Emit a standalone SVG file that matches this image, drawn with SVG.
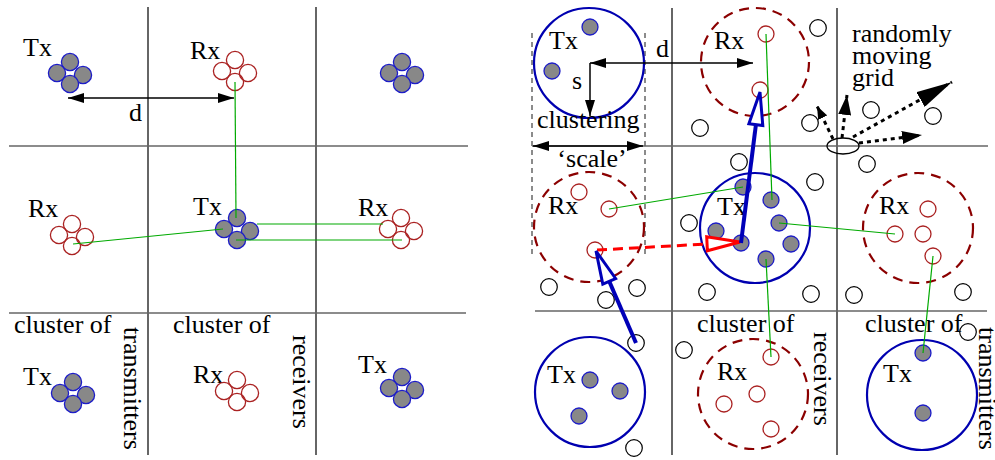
<svg xmlns="http://www.w3.org/2000/svg" xmlns:xlink="http://www.w3.org/1999/xlink" width="995" height="460" viewBox="0 0 995 460">
  <style>
    .gv { stroke:#333; stroke-width:1.5; }
    .gh { stroke:#666; stroke-width:1.5; }
    .tx { fill:#888; stroke:#1c1cc8; stroke-width:1.3; }
    .rx { fill:none; stroke:#aa2222; stroke-width:1.3; }
    .pt { fill:none; stroke:#000; stroke-width:1.2; }
    .zoneT { fill:none; stroke:#0000b0; stroke-width:2.2; }
    .zoneR { fill:none; stroke:#8b0000; stroke-width:2.2; stroke-dasharray:10 7; }
    .link { stroke:#0a0; stroke-width:1.2; fill:none; }
    .dim { stroke:#000; stroke-width:1.5; fill:none; }
    .move { stroke:#000; stroke-width:3; stroke-dasharray:4 4; fill:none; }
    .scale { stroke:#666; stroke-width:1.5; stroke-dasharray:5 4; }
    text { font-family:"Liberation Serif","Times New Roman",serif; font-size:26px; fill:#000; }
  </style>
  <defs>
    <marker id="ah" viewBox="0 0 16 10" refX="16" refY="5" markerWidth="16" markerHeight="10" markerUnits="userSpaceOnUse" orient="auto-start-reverse">
      <path d="M0,0 L16,5 L0,10 z" fill="#000"/>
    </marker>
    <marker id="ahS" viewBox="0 0 13 10" refX="13" refY="5" markerWidth="13" markerHeight="10" markerUnits="userSpaceOnUse" orient="auto">
      <path d="M0,0 L13,5 L0,10 z" fill="#000"/>
    </marker>
    <marker id="ahM" viewBox="0 0 20 13" refX="20" refY="6.5" markerWidth="20" markerHeight="13" markerUnits="userSpaceOnUse" orient="auto">
      <path d="M0,0 L20,6.5 L0,13 z" fill="#000"/>
    </marker>
    <marker id="ahL" viewBox="0 0 36 17" refX="36" refY="8.5" markerWidth="36" markerHeight="17" markerUnits="userSpaceOnUse" orient="auto">
      <path d="M0,0 L36,8.5 L0,17 z" fill="#000"/>
    </marker>
    <!-- tight four-node clusters -->
    <g id="txq">
      <circle class="tx" cx="0" cy="-11" r="8.6"/>
      <circle class="tx" cx="-13" cy="0" r="8.6"/>
      <circle class="tx" cx="13" cy="2" r="8.6"/>
      <circle class="tx" cx="0" cy="11" r="8.6"/>
    </g>
    <g id="rxq">
      <circle class="rx" cx="0" cy="-11" r="8.6"/>
      <circle class="rx" cx="-13" cy="0" r="8.6"/>
      <circle class="rx" cx="13" cy="2" r="8.6"/>
      <circle class="rx" cx="0" cy="11" r="8.6"/>
    </g>
  </defs>

  <rect width="995" height="460" fill="#fff"/>

  <!-- ===== Left panel: fixed grid ===== -->
  <g id="grid-left">
    <line class="gv" x1="148" y1="7" x2="148" y2="455"/>
    <line class="gv" x1="316" y1="7" x2="316" y2="455"/>
    <line class="gh" x1="9" y1="146" x2="468" y2="146"/>
    <line class="gh" x1="9" y1="313" x2="466" y2="313"/>
  </g>

  <g id="L-tx-tl"><text x="23" y="56">Tx</text><use xlink:href="#txq" x="70" y="73"/></g>
  <g id="L-rx-tm"><text x="190" y="59">Rx</text><use xlink:href="#rxq" x="235" y="71"/></g>
  <g id="L-tx-tr"><use xlink:href="#txq" x="402" y="73"/></g>
  <g id="L-rx-ml"><text x="28" y="217">Rx</text><use xlink:href="#rxq" x="72" y="235"/></g>
  <g id="L-tx-mm"><text x="193" y="215">Tx</text><use xlink:href="#txq" x="237" y="229"/></g>
  <g id="L-rx-mr"><text x="358" y="216">Rx</text><use xlink:href="#rxq" x="401" y="229"/></g>
  <g id="L-tx-bl"><text x="23" y="385">Tx</text><use xlink:href="#txq" x="73" y="393"/></g>
  <g id="L-rx-bm"><text x="193" y="383">Rx</text><use xlink:href="#rxq" x="237" y="391"/></g>
  <g id="L-tx-br"><text x="358" y="373">Tx</text><use xlink:href="#txq" x="402" y="388"/></g>

  <g id="L-labels">
    <text x="129" y="121">d</text>
    <text x="14" y="333">cluster of</text>
    <text x="173" y="333">cluster of</text>
    <text transform="translate(124,327) rotate(90)">transmitters</text>
    <text transform="translate(293,335) rotate(90)">receivers</text>
  </g>

  <g id="L-connectors">
    <line class="dim" x1="68" y1="98" x2="234" y2="98" marker-start="url(#ah)" marker-end="url(#ah)"/>
    <line class="link" x1="235" y1="82" x2="236" y2="218"/>
    <line class="link" x1="73" y1="244" x2="223" y2="229"/>
    <line class="link" x1="257" y1="224" x2="383" y2="224" stroke="#6c6"/>
    <line class="link" x1="236" y1="240" x2="402" y2="240"/>
  </g>

  <!-- ===== Right panel: randomly moving grid ===== -->
  <g id="grid-right">
    <line class="gv" x1="672" y1="8" x2="672" y2="455"/>
    <line class="gv" x1="837" y1="8" x2="837" y2="455"/>
    <line class="gh" x1="532" y1="146" x2="988" y2="146"/>
    <line class="gh" x1="535" y1="311" x2="987" y2="311"/>
    <line class="scale" x1="532" y1="33" x2="532" y2="258"/>
    <line class="scale" x1="645" y1="33" x2="645" y2="258"/>
  </g>

  <!-- isolated nodes -->
  <g id="R-points">
    <circle class="pt" cx="700" cy="128" r="8.3"/>
    <circle class="pt" cx="739" cy="162" r="8.3"/>
    <circle class="pt" cx="818" cy="28" r="8.3"/>
    <circle class="pt" cx="810" cy="123" r="8.3"/>
    <circle class="pt" cx="871" cy="110" r="8.3"/>
    <circle class="pt" cx="933" cy="116" r="8.3"/>
    <circle class="pt" cx="867" cy="164" r="8.3"/>
    <circle class="pt" cx="689" cy="223" r="8.3"/>
    <circle class="pt" cx="815" cy="182" r="8.3"/>
    <circle class="pt" cx="549" cy="287" r="8.3"/>
    <circle class="pt" cx="606" cy="300" r="8.3"/>
    <circle class="pt" cx="637" cy="288" r="8.3"/>
    <circle class="pt" cx="707" cy="292" r="8.3"/>
    <circle class="pt" cx="811" cy="294" r="8.3"/>
    <circle class="pt" cx="854" cy="295" r="8.3"/>
    <circle class="pt" cx="963" cy="292" r="8.3"/>
    <circle class="pt" cx="636" cy="343" r="8.3"/>
    <circle class="pt" cx="684" cy="350" r="8.3"/>
    <circle class="pt" cx="634" cy="448" r="8.3"/>
    <circle class="pt" cx="968" cy="332" r="8.3"/>
  </g>

  <g id="R-tx-tl">
    <circle class="zoneT" cx="589" cy="63" r="55"/>
    <circle class="tx" cx="590" cy="27" r="8"/>
    <circle class="tx" cx="552" cy="71" r="8"/>
    <text x="549" y="49">Tx</text>
  </g>
  <g id="R-rx-tm">
    <circle class="zoneR" cx="755" cy="62" r="54"/>
    <circle class="rx" cx="766" cy="34" r="8"/>
    <circle class="rx" cx="760" cy="90" r="8"/>
    <text x="714" y="49">Rx</text>
  </g>
  <g id="R-rx-ml">
    <circle class="zoneR" cx="589" cy="227" r="55"/>
    <circle class="rx" cx="579" cy="192" r="8"/>
    <circle class="rx" cx="609" cy="209" r="8"/>
    <circle class="rx" cx="595" cy="250" r="8"/>
    <text x="548" y="214">Rx</text>
  </g>
  <g id="R-tx-mm">
    <circle class="zoneT" cx="755" cy="228" r="55"/>
    <circle class="tx" cx="743" cy="187" r="8"/>
    <circle class="tx" cx="771" cy="200" r="8"/>
    <circle class="tx" cx="716" cy="231" r="8"/>
    <circle class="tx" cx="779" cy="223" r="8"/>
    <circle class="tx" cx="741" cy="243" r="8"/>
    <circle class="tx" cx="791" cy="244" r="8"/>
    <circle class="tx" cx="766" cy="259" r="8"/>
    <text x="717" y="215">Tx</text>
  </g>
  <g id="R-rx-mr">
    <circle class="zoneR" cx="918" cy="228" r="55"/>
    <circle class="rx" cx="928" cy="209" r="8"/>
    <circle class="rx" cx="895" cy="234" r="8"/>
    <circle class="rx" cx="923" cy="234" r="8"/>
    <circle class="rx" cx="933" cy="256" r="8"/>
    <text x="879" y="214">Rx</text>
  </g>
  <g id="R-tx-bl">
    <circle class="zoneT" cx="590" cy="392" r="55"/>
    <circle class="tx" cx="590" cy="380" r="8"/>
    <circle class="tx" cx="620" cy="391" r="8"/>
    <circle class="tx" cx="579" cy="416" r="8"/>
    <text x="547" y="383">Tx</text>
  </g>
  <g id="R-rx-bm">
    <circle class="zoneR" cx="753" cy="394" r="55"/>
    <circle class="rx" cx="771" cy="357" r="8"/>
    <circle class="rx" cx="724" cy="404" r="8"/>
    <circle class="rx" cx="757" cy="394" r="8"/>
    <circle class="rx" cx="771" cy="429" r="8"/>
    <text x="717" y="380">Rx</text>
  </g>
  <g id="R-tx-br">
    <circle class="zoneT" cx="922" cy="395" r="55"/>
    <circle class="tx" cx="923" cy="353" r="8"/>
    <circle class="tx" cx="923" cy="413" r="8"/>
    <text x="883" y="382">Tx</text>
  </g>

  <g id="R-grid-anchor">
    <ellipse cx="843" cy="146" rx="16" ry="8" fill="none" stroke="#000" stroke-width="1.3"/>
  </g>

  <g id="R-labels">
    <text x="656" y="57">d</text>
    <text x="572" y="89">s</text>
    <text x="537" y="128">clustering</text>
    <text x="592" y="167" text-anchor="middle">‘scale’</text>
    <text x="852" y="42">randomly</text>
    <text x="852" y="64">moving</text>
    <text x="852" y="86">grid</text>
    <text x="697" y="332">cluster of</text>
    <text x="865" y="332">cluster of</text>
    <text transform="translate(814,332) rotate(90)">receivers</text>
    <text transform="translate(979,327) rotate(90)">transmitters</text>
  </g>

  <g id="R-connectors">
    <!-- dimensions -->
    <line class="dim" x1="590" y1="63" x2="753" y2="63" marker-start="url(#ah)" marker-end="url(#ah)"/>
    <line class="dim" x1="590" y1="63" x2="590" y2="116" marker-end="url(#ah)"/>
    <line class="dim" x1="533" y1="146" x2="643" y2="146" marker-start="url(#ah)" marker-end="url(#ah)"/>
    <!-- links -->
    <line class="link" x1="766" y1="34" x2="772" y2="200"/>
    <line class="link" x1="609" y1="209" x2="743" y2="187"/>
    <line class="link" x1="779" y1="223" x2="895" y2="234"/>
    <line class="link" x1="933" y1="256" x2="923" y2="353"/>
    <line class="link" x1="766" y1="259" x2="771" y2="357"/>
    <!-- red dashed arrow -->
    <line x1="597" y1="250" x2="707" y2="244" stroke="#f00" stroke-width="3" stroke-dasharray="10 6"/>
    <polygon points="740,242 707.4,250.8 706.7,236.8" fill="#fff" stroke="#f00" stroke-width="3" stroke-linejoin="miter"/>
    <!-- blue arrows -->
    <line x1="741" y1="243" x2="755.9" y2="124.7" stroke="#0000b8" stroke-width="4"/>
    <polygon points="760,92 762.8,125.6 748.9,123.8" fill="#fff" stroke="#0000b8" stroke-width="3"/>
    <line x1="636" y1="343" x2="609.2" y2="281.3" stroke="#0000b8" stroke-width="4"/>
    <polygon points="596,251 615.6,278.5 602.8,284.1" fill="#fff" stroke="#0000b8" stroke-width="3"/>
    <!-- grid motion -->
    <line class="move" x1="833" y1="139" x2="817" y2="106" marker-end="url(#ahS)"/>
    <line class="move" x1="842" y1="138" x2="847" y2="95" marker-end="url(#ahM)"/>
    <line class="move" x1="853" y1="137" x2="952" y2="82" marker-end="url(#ahL)"/>
    <line class="move" x1="859" y1="143" x2="922" y2="135" marker-end="url(#ahM)"/>
  </g>
</svg>
